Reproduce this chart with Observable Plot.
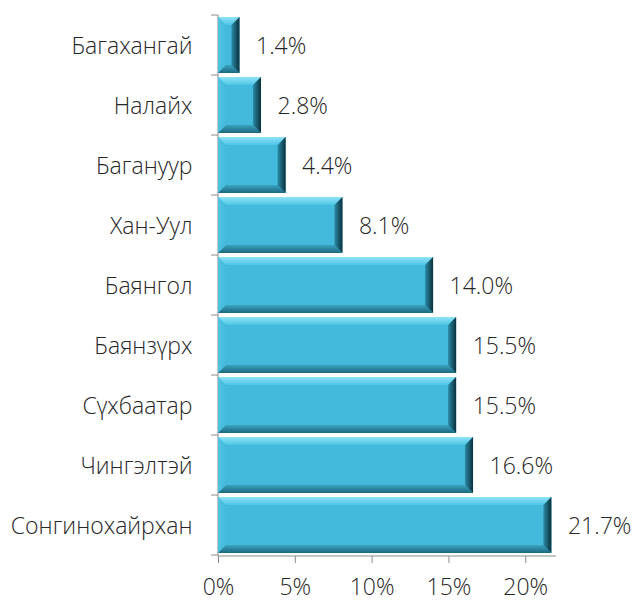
<!DOCTYPE html>
<html>
<head>
<meta charset="utf-8">
<script src="https://cdn.jsdelivr.net/npm/d3@7"></script>
<script src="https://cdn.jsdelivr.net/npm/@observablehq/plot@0.6"></script>
<style>
  body { margin: 0; background: #fff; }
  #chart svg { font-family: "Open Sans", sans-serif; font-weight: 300; }
  #chart [aria-label^="x-axis"] path, #chart [aria-label^="x-axis"] line { stroke: #8c8c8c; }
</style>
</head>
<body>
<div id="chart"></div>
<script>
const districts = ["Багахангай", "Налайх", "Багануур", "Хан-Уул", "Баянгол", "Баянзүрх", "Сүхбаатар", "Чингэлтэй", "Сонгинохайрхан"];
const shares = [1.4, 2.8, 4.4, 8.1, 14.0, 15.5, 15.5, 16.6, 21.7];
const xTicks = [0, 5, 10, 15, 20];

const data = districts.map((d, i) => ({district: d, share: shares[i]}));

const padInner = 0.07;
const bevel = 8;
function bevelBars(index, scales) {
  const x = scales.x, y = scales.y;
  const r0 = Math.min(...y.range());
  const step = y.step();
  const bw = step * (1 - padInner);
  const g = d3.create("svg:g").attr("aria-label", "bevel bars");
  const defs = g.append("defs");
  const grad = (id, vertical, stops) => {
    const lg = defs.append("linearGradient").attr("id", id)
      .attr("x1", 0).attr("y1", 0).attr("x2", vertical ? 0 : 1).attr("y2", vertical ? 1 : 0);
    stops.forEach(([o, c]) => lg.append("stop").attr("offset", o).attr("stop-color", c));
  };
  grad("bvTop", true, [[0, "#8fe4f8"], [1, "#4cc4e5"]]);
  grad("bvLeft", false, [[0, "#52c3e2"], [1, "#44badd"]]);
  grad("bvBottom", true, [[0, "#3aa3c2"], [1, "#1d6a81"]]);
  grad("bvRight", false, [[0, "#2a8aa6"], [1, "#0a313c"]]);
  data.forEach((d, i) => {
    const x0 = x(0), x1 = x(d.share);
    const y0 = r0 + i * step + step * padInner / 2, y1 = y0 + bw;
    const b = Math.min(bevel, (x1 - x0) / 2);
    const poly = (pts, fill) => g.append("polygon").attr("points", pts.map(p => p.join(",")).join(" ")).attr("fill", fill);
    g.append("rect").attr("x", x0).attr("y", y0).attr("width", x1 - x0).attr("height", bw).attr("fill", "#43b9dc");
    poly([[x0, y0], [x1, y0], [x1 - b, y0 + b], [x0 + b, y0 + b]], "url(#bvTop)");
    poly([[x0, y0], [x0 + b, y0 + b], [x0 + b, y1 - b], [x0, y1]], "url(#bvLeft)");
    poly([[x0, y1], [x0 + b, y1 - b], [x1 - b, y1 - b], [x1, y1]], "url(#bvBottom)");
    poly([[x1, y0], [x1, y1], [x1 - b, y1 - b], [x1 - b, y0 + b]], "url(#bvRight)");
  });
  return g.node();
}

function axes(index, scales) {
  const x = scales.x, y = scales.y;
  const g = d3.create("svg:g").attr("aria-label", "axis lines").attr("stroke", "#8c8c8c").attr("fill", "none");
  const r0 = Math.min(...y.range()), r1 = Math.max(...y.range());
  const step = y.step();
  const xa = x(0);
  g.append("line").attr("x1", xa).attr("x2", xa).attr("y1", r0).attr("y2", r1);
  for (let i = 0; i <= districts.length; i++) {
    const yy = r0 + i * step;
    g.append("line").attr("x1", xa - 7).attr("x2", xa).attr("y1", yy).attr("y2", yy);
  }
  const [d0, d1] = x.domain();
  g.append("line").attr("x1", x(d0)).attr("x2", x(d1)).attr("y1", r1).attr("y2", r1);
  return g.node();
}

const chart = Plot.plot({
  width: 637,
  height: 601,
  marginLeft: 218,
  marginRight: 81,
  marginTop: 15,
  marginBottom: 45,
  style: {fontSize: "23px", color: "#262626", background: "#fff"},
  x: {domain: [0, 22], ticks: xTicks, tickFormat: d => d + "%", tickSize: 7, tickPadding: 15, label: null},
  y: {domain: districts, paddingInner: padInner, paddingOuter: padInner / 2, tickSize: 0, tickPadding: 26, label: null},
  marks: [
    axes,
    bevelBars,
    Plot.text(data, {x: "share", y: "district", text: d => d.share.toFixed(1) + "%", dx: 16, textAnchor: "start", fill: "#262626", fontSize: 23})
  ]
});
document.getElementById("chart").appendChild(chart);
</script>
</body>
</html>
